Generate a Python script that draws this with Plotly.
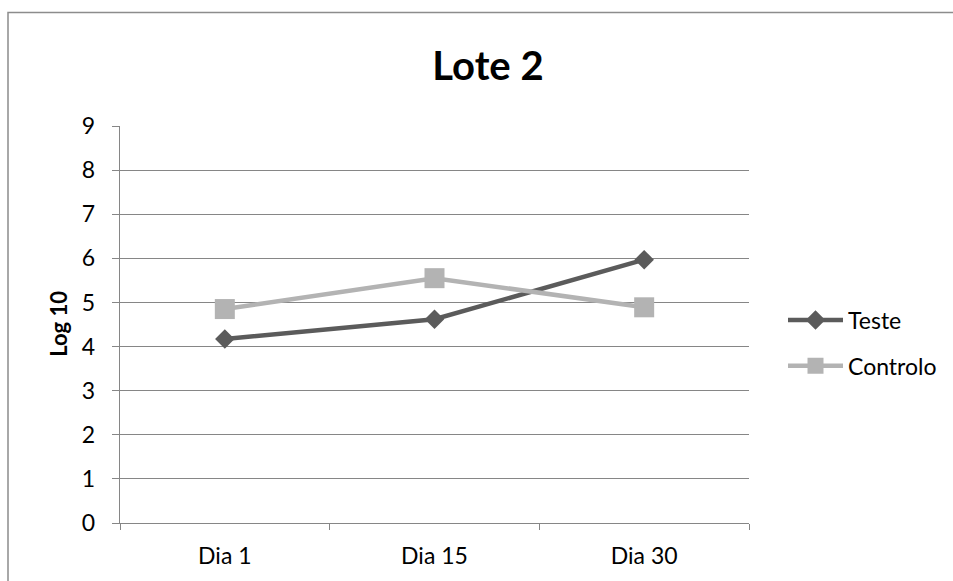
import plotly.graph_objects as go

# Data
days = ["Dia 1", "Dia 15", "Dia 30"]
teste = [4.17, 4.62, 5.97]
controlo = [4.85, 5.55, 4.89]

W, H = 953, 581
FONT = "Lato, Calibri, Carlito, sans-serif"
GRID = "#868686"

fig = go.Figure()

fig.add_trace(go.Scatter(
    x=days, y=teste, name="Teste", mode="lines+markers",
    line=dict(color="#5b5b5b", width=4.5),
    marker=dict(symbol="diamond", size=15, color="#5b5b5b", line=dict(width=0)),
    legendgroup="a",
))
fig.add_trace(go.Scatter(
    x=days, y=controlo, name="Controlo", mode="lines+markers",
    line=dict(color="#b3b3b3", width=4.5),
    marker=dict(symbol="square", size=20, color="#b3b3b3", line=dict(width=0)),
    legendgroup="b",
))

# Outer chart border
fig.add_shape(type="rect", xref="paper", yref="paper",
              x0=(8 - 120) / 629, x1=(W + 20 - 120) / 629,
              y0=-0.4, y1=(H - 13 - 58) / 396.7,
              line=dict(color="#8c8c8c", width=1.5), fillcolor="rgba(0,0,0,0)",
              layer="below")

# Y-axis title
fig.add_annotation(text="<b>Log 10</b>", textangle=-90,
                   xref="paper", yref="paper",
                   x=(59 - 120) / 629, y=(H - 58 - 324) / 396.7,
                   xanchor="center", yanchor="middle", showarrow=False,
                   font=dict(family=FONT, size=22, color="black"))

fig.update_layout(
    width=W, height=H,
    margin=dict(l=120, r=204, t=126, b=58, autoexpand=False),
    paper_bgcolor="white", plot_bgcolor="white",
    font=dict(family=FONT, size=23, color="black"),
    title=dict(text="<b>Lote 2</b>", x=488 / W, xanchor="center",
               y=1 - 66 / H, yanchor="middle", xref="container", yref="container",
               font=dict(family=FONT, size=40, color="black")),
    showlegend=True,
    legend=dict(x=783 / W, xanchor="left", y=1 - 343 / H, yanchor="middle",
                xref="container", yref="container",
                font=dict(family=FONT, size=23, color="black"),
                tracegroupgap=13, traceorder="grouped",
                bgcolor="rgba(0,0,0,0)", itemwidth=55),
    xaxis=dict(type="category", range=[-0.5, 2.5], showgrid=False,
               showline=True, linecolor=GRID, linewidth=1.4,
               ticks="outside", tickson="boundaries", ticklen=6, tickcolor=GRID,
               tickwidth=1.4, ticklabelstandoff=12, zeroline=False),
    yaxis=dict(range=[0, 9], dtick=1, showgrid=True, gridcolor=GRID, gridwidth=1.4,
               showline=True, linecolor=GRID, linewidth=1.4,
               ticks="outside", ticklen=7, tickcolor=GRID, tickwidth=1.4,
               ticklabelstandoff=12, zeroline=False),
)

fig.write_html("out.html")
